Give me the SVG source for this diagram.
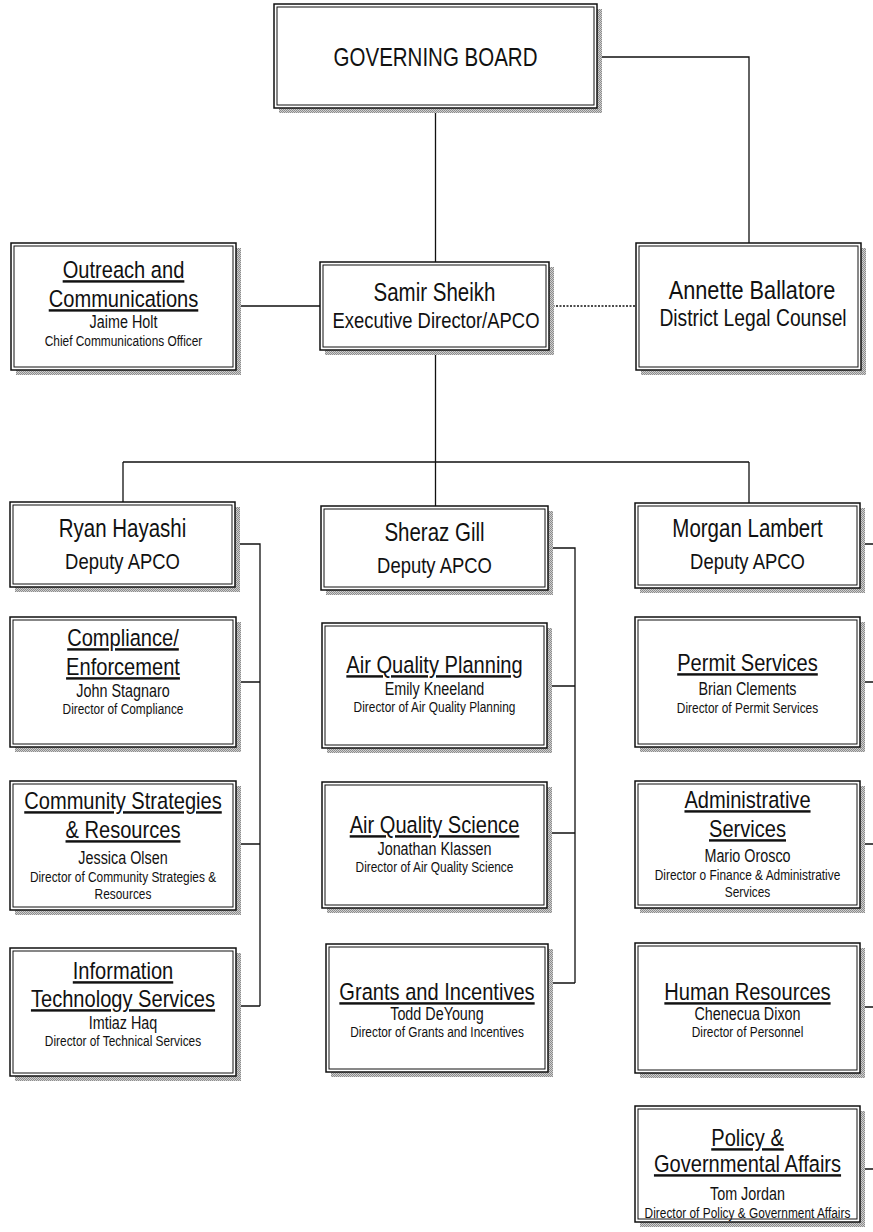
<svg xmlns="http://www.w3.org/2000/svg" width="873" height="1232" viewBox="0 0 873 1232">
<style>
text{font-family:"Liberation Sans",Arial,sans-serif;fill:#111;text-anchor:middle}
.t25{font-size:25px}.h{font-size:24.5px}.t22{font-size:22.5px}.t18{font-size:17.5px}.t14{font-size:14.5px}
.u{text-decoration:underline}
.o{fill:#fff;stroke:#111;stroke-width:1.5}
.i{fill:none;stroke:#111;stroke-width:1}
.sh{fill:url(#shp)}
.c{fill:none;stroke:#111;stroke-width:1.3}
.d{fill:none;stroke:#111;stroke-width:1.3;stroke-dasharray:2 1.5}
</style>
<defs>
<pattern id="shp" width="2" height="2" patternUnits="userSpaceOnUse"><rect width="2" height="2" fill="#cfcfcf"/><rect width="1" height="1" fill="#8c8c8c"/><rect x="1" y="1" width="1" height="1" fill="#8c8c8c"/></pattern>
</defs>
<rect width="873" height="1232" fill="#fff"/>
<g id="connectors">
<path class="c" d="M435.5,108V262M597,57H749V243M236,306H320M435.5,350V506M123,462H749M123,462V502M749,462V503"/>
<path class="d" d="M549,306H636"/>
<path class="c" d="M235,544H260V1006M236,682H260M236,844H260M236,1006H260"/>
<path class="c" d="M548,548H575V983M547,686H575M547,833H575M548,983H575"/>
<path class="c" d="M860,544H873M860,682H873M860,844H873M860,1007H873M860,1169H873"/>
</g>
<g id="board"><rect class="sh" x="279" y="9" width="323" height="104"/><rect class="o" x="274" y="4" width="323" height="104"/><rect class="i" x="277" y="7" width="317" height="98"/>
<text class="t25" transform="translate(435.5,66) scale(.82,1)">GOVERNING BOARD</text></g>
<g id="outreach"><rect class="sh" x="16" y="248" width="225" height="127"/><rect class="o" x="11" y="243" width="225" height="127"/><rect class="i" x="14" y="246" width="219" height="121"/>
<text class="h u" transform="translate(123.5,278) scale(.82,1)">Outreach and</text>
<text class="h u" transform="translate(123.5,307) scale(.82,1)">Communications</text>
<text class="t18" transform="translate(123.5,328) scale(.82,1)">Jaime Holt</text>
<text class="t14" transform="translate(123.5,346) scale(.82,1)">Chief Communications Officer</text></g>
<g id="samir"><rect class="sh" x="325" y="267" width="229" height="88"/><rect class="o" x="320" y="262" width="229" height="88"/><rect class="i" x="323" y="265" width="223" height="82"/>
<text class="t25" transform="translate(434.5,301) scale(.82,1)">Samir Sheikh</text>
<text class="t22" transform="translate(436,328) scale(.82,1)">Executive Director/APCO</text></g>
<g id="annette"><rect class="sh" x="641" y="248" width="225" height="127"/><rect class="o" x="636" y="243" width="225" height="127"/><rect class="i" x="639" y="246" width="219" height="121"/>
<text style="font-size:26.5px" transform="translate(752,299) scale(.82,1)">Annette Ballatore</text>
<text style="font-size:23.5px" transform="translate(753,326) scale(.82,1)">District Legal Counsel</text></g>
<g id="ryan"><rect class="sh" x="15" y="507" width="225" height="85"/><rect class="o" x="10" y="502" width="225" height="85"/><rect class="i" x="13" y="505" width="219" height="79"/>
<text class="t25" transform="translate(122.5,537) scale(.82,1)">Ryan Hayashi</text>
<text class="t22" transform="translate(122.5,569) scale(.82,1)">Deputy APCO</text></g>
<g id="sheraz"><rect class="sh" x="326" y="511" width="227" height="84"/><rect class="o" x="321" y="506" width="227" height="84"/><rect class="i" x="324" y="509" width="221" height="78"/>
<text class="t25" transform="translate(434.5,541) scale(.82,1)">Sheraz Gill</text>
<text class="t22" transform="translate(434.5,573) scale(.82,1)">Deputy APCO</text></g>
<g id="morgan"><rect class="sh" x="640" y="508" width="225" height="85"/><rect class="o" x="635" y="503" width="225" height="85"/><rect class="i" x="638" y="506" width="219" height="79"/>
<text class="t25" transform="translate(747.5,537) scale(.82,1)">Morgan Lambert</text>
<text class="t22" transform="translate(747.5,569) scale(.82,1)">Deputy APCO</text></g>
<g id="compliance"><rect class="sh" x="15" y="622" width="226" height="130"/><rect class="o" x="10" y="617" width="226" height="130"/><rect class="i" x="13" y="620" width="220" height="124"/>
<text class="h u" transform="translate(123,646) scale(.82,1)">Compliance/</text>
<text class="h u" transform="translate(123,675) scale(.82,1)">Enforcement</text>
<text class="t18" transform="translate(123,697) scale(.82,1)">John Stagnaro</text>
<text class="t14" transform="translate(123,714) scale(.82,1)">Director of Compliance</text></g>
<g id="community"><rect class="sh" x="15" y="786" width="226" height="129"/><rect class="o" x="10" y="781" width="226" height="129"/><rect class="i" x="13" y="784" width="220" height="123"/>
<text class="h u" transform="translate(123,809) scale(.82,1)">Community Strategies</text>
<text class="h u" transform="translate(123,838) scale(.82,1)">&amp; Resources</text>
<text class="t18" transform="translate(123,864) scale(.82,1)">Jessica Olsen</text>
<text class="t14" transform="translate(123,882) scale(.82,1)">Director of Community Strategies &amp;</text>
<text class="t14" transform="translate(123,899) scale(.82,1)">Resources</text></g>
<g id="it"><rect class="sh" x="15" y="953" width="226" height="128"/><rect class="o" x="10" y="948" width="226" height="128"/><rect class="i" x="13" y="951" width="220" height="122"/>
<text class="h u" transform="translate(123,979) scale(.82,1)">Information</text>
<text class="h u" transform="translate(123,1007) scale(.82,1)">Technology Services</text>
<text class="t18" transform="translate(123,1029) scale(.82,1)">Imtiaz Haq</text>
<text class="t14" transform="translate(123,1046) scale(.82,1)">Director of Technical Services</text></g>
<g id="aqp"><rect class="sh" x="327" y="628" width="225" height="125"/><rect class="o" x="322" y="623" width="225" height="125"/><rect class="i" x="325" y="626" width="219" height="119"/>
<text class="h u" transform="translate(434.5,673) scale(.82,1)">Air Quality Planning</text>
<text class="t18" transform="translate(434.5,695) scale(.82,1)">Emily Kneeland</text>
<text class="t14" transform="translate(434.5,712) scale(.82,1)">Director of Air Quality Planning</text></g>
<g id="aqs"><rect class="sh" x="327" y="787" width="225" height="126"/><rect class="o" x="322" y="782" width="225" height="126"/><rect class="i" x="325" y="785" width="219" height="120"/>
<text class="h u" transform="translate(434.5,833) scale(.82,1)">Air Quality Science</text>
<text class="t18" transform="translate(434.5,855) scale(.82,1)">Jonathan Klassen</text>
<text class="t14" transform="translate(434.5,872) scale(.82,1)">Director of Air Quality Science</text></g>
<g id="grants"><rect class="sh" x="331" y="949" width="222" height="128"/><rect class="o" x="326" y="944" width="222" height="128"/><rect class="i" x="329" y="947" width="216" height="122"/>
<text class="h u" transform="translate(437,1000) scale(.82,1)">Grants and Incentives</text>
<text class="t18" transform="translate(437,1020) scale(.82,1)">Todd DeYoung</text>
<text class="t14" transform="translate(437,1037) scale(.82,1)">Director of Grants and Incentives</text></g>
<g id="permit"><rect class="sh" x="640" y="622" width="225" height="130"/><rect class="o" x="635" y="617" width="225" height="130"/><rect class="i" x="638" y="620" width="219" height="124"/>
<text class="h u" transform="translate(747.5,671) scale(.82,1)">Permit Services</text>
<text class="t18" transform="translate(747.5,695) scale(.82,1)">Brian Clements</text>
<text class="t14" transform="translate(747.5,713) scale(.82,1)">Director of Permit Services</text></g>
<g id="admin"><rect class="sh" x="640" y="786" width="225" height="127"/><rect class="o" x="635" y="781" width="225" height="127"/><rect class="i" x="638" y="784" width="219" height="121"/>
<text class="h u" transform="translate(747.5,808) scale(.82,1)">Administrative</text>
<text class="h u" transform="translate(747.5,837) scale(.82,1)">Services</text>
<text class="t18" transform="translate(747.5,862) scale(.82,1)">Mario Orosco</text>
<text class="t14" transform="translate(747.5,880) scale(.82,1)">Director o Finance &amp; Administrative</text>
<text class="t14" transform="translate(747.5,897) scale(.82,1)">Services</text></g>
<g id="hr"><rect class="sh" x="640" y="948" width="225" height="130"/><rect class="o" x="635" y="943" width="225" height="130"/><rect class="i" x="638" y="946" width="219" height="124"/>
<text class="h u" transform="translate(747.5,1000) scale(.82,1)">Human Resources</text>
<text class="t18" transform="translate(747.5,1020) scale(.82,1)">Chenecua Dixon</text>
<text class="t14" transform="translate(747.5,1037) scale(.82,1)">Director of Personnel</text></g>
<g id="policy"><rect class="sh" x="640" y="1111" width="225" height="116"/><rect class="o" x="635" y="1106" width="225" height="116"/><rect class="i" x="638" y="1109" width="219" height="110"/>
<text class="h u" transform="translate(747.5,1146) scale(.82,1)">Policy &amp;</text>
<text class="h u" transform="translate(747.5,1172) scale(.82,1)">Governmental Affairs</text>
<text class="t18" transform="translate(747.5,1200) scale(.82,1)">Tom Jordan</text>
<text class="t14" transform="translate(747.5,1218) scale(.82,1)">Director of Policy &amp; Government Affairs</text></g>
</svg>
